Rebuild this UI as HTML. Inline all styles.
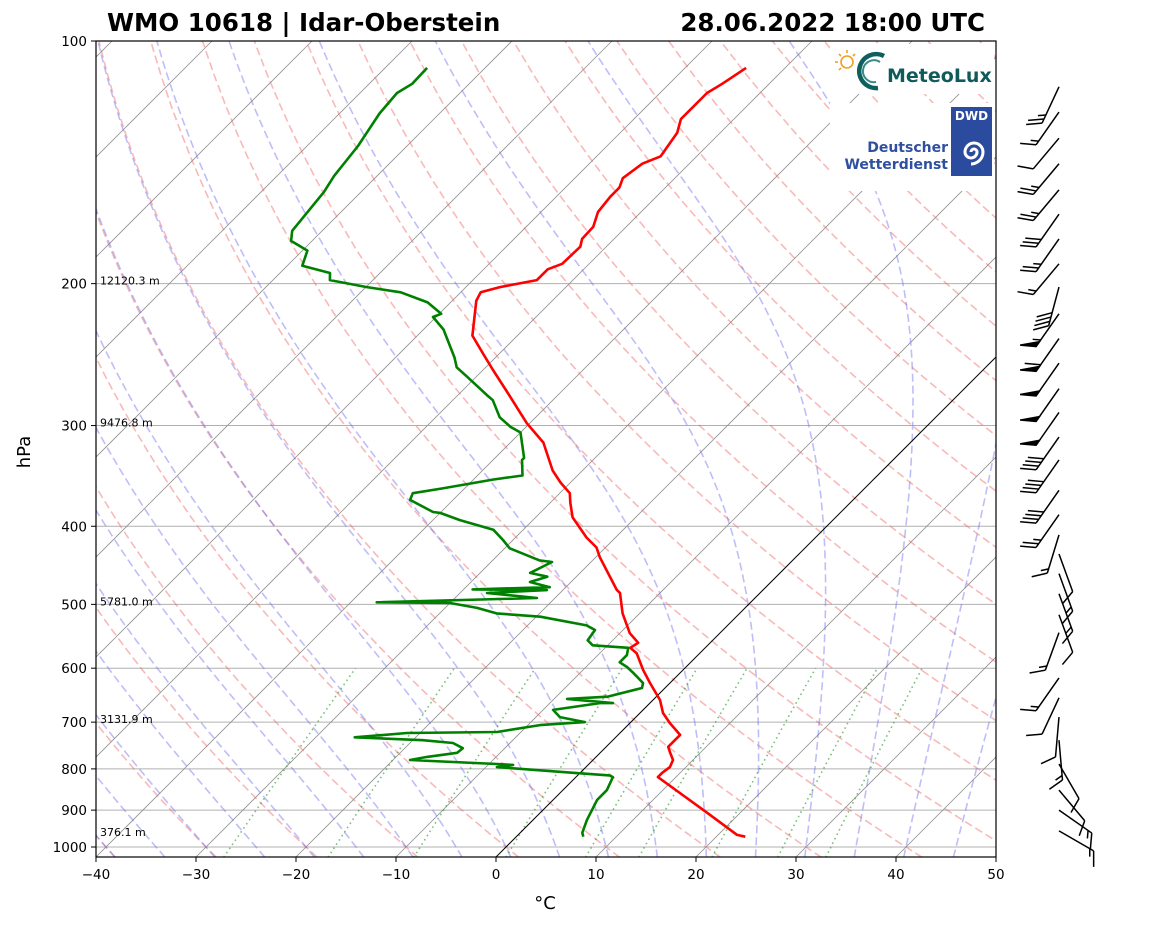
<!DOCTYPE html>
<html><head><meta charset="utf-8"><style>
body{margin:0;background:#fff;}
svg text{font-family:"DejaVu Sans","Liberation Sans",sans-serif;}
</style></head><body>
<svg id="chart" xmlns="http://www.w3.org/2000/svg" width="1160" height="925" viewBox="0 0 1160 925">
<defs><clipPath id="plotclip"><rect x="96" y="41" width="900" height="816"/></clipPath></defs>
<rect x="0" y="0" width="1160" height="925" fill="#fff"/>
<g id="grid" clip-path="url(#plotclip)"></g>
<g id="logos">
  <rect x="830" y="44" width="164" height="50" fill="#fff"/>
  <rect x="830" y="103" width="164" height="88" fill="#fff"/>
  <g stroke="#f0a020" stroke-width="1.6" fill="none">
    <circle cx="847" cy="62" r="6"/>
    <line x1="847" y1="50" x2="847" y2="53"/><line x1="835" y1="62" x2="838" y2="62"/>
    <line x1="839" y1="54" x2="841" y2="56"/><line x1="855" y1="54" x2="853" y2="56"/>
    <line x1="839" y1="70" x2="841" y2="68"/>
  </g>
  <path d="M884 56 A17 17 0 1 0 878 88" fill="none" stroke="#0f5f5f" stroke-width="4.5"/>
  <path d="M880 62 A11 11 0 1 0 876 82" fill="none" stroke="#3a8a8a" stroke-width="2"/>
  <text x="887" y="82" font-size="19" font-weight="bold" fill="#0f5b5b">MeteoLux</text>
  <rect x="951" y="107" width="41" height="69" fill="#2b4c9e"/>
  <text x="971.5" y="120" font-size="12" font-weight="bold" fill="#fff" text-anchor="middle">DWD</text>
  <path d="M971 152 a3 3 0 0 1 6 0 a6 6 0 0 1 -12 0 a9 9 0 0 1 18 0 a12 12 0 0 1 -12 12" fill="none" stroke="#fff" stroke-width="3"/>
  <text x="948" y="152" font-size="14" font-weight="bold" fill="#2f4f9f" text-anchor="end">Deutscher</text>
  <text x="948" y="169" font-size="14" font-weight="bold" fill="#2f4f9f" text-anchor="end">Wetterdienst</text>
</g>
<g id="axes"></g>
<g id="barbs"></g>
<text x="107" y="31" font-size="24.5" font-weight="bold">WMO 10618 | Idar-Oberstein</text>
<text x="985" y="31" font-size="24.5" font-weight="bold" text-anchor="end">28.06.2022 18:00 UTC</text>
<text x="545" y="909" font-size="18" text-anchor="middle">°C</text>
<text x="30" y="452" font-size="18" text-anchor="middle" transform="rotate(-90 30 452)">hPa</text>
</svg>
<script>
// ---------- data ----------
const tempP = [971,966,907,845,819,809,796,780,764,751,726,702,682,657,626,603,575,566,558,543,513,484,480,437,425,413,390,374,364,353,341,315,298,273,256,244,232,210,205,202,198,192,189,180,176,170,163,156,152,148,142,139,130,125,121,116,113,108];
const tempT = [22.9,21.9,16.7,10.8,8.2,8.2,8.4,8.0,7.0,6.2,6.2,4.0,2.3,0.7,-2.0,-4.0,-6.3,-7.5,-7.2,-9.0,-11.7,-14.0,-14.6,-19.6,-20.9,-22.9,-26.3,-28.0,-29.0,-31.0,-33.0,-36.7,-40.3,-45.3,-49.0,-51.7,-54.5,-57.6,-58.0,-56.6,-53.6,-53.6,-52.7,-52.6,-53.2,-53.3,-54.3,-54.6,-54.6,-55.2,-54.7,-53.6,-54.3,-55.3,-55.3,-55.3,-54.7,-53.9];
const dewP = [971,960,926,874,850,819,815,809,796,791,789,780,773,764,754,743,737,731,722,720,706,700,690,676,663,663,655,651,635,626,608,598,590,578,566,562,554,538,531,518,513,505,498,497,491,484,480,479,476,469,462,457,443,441,426,416,404,393,385,384,371,364,359,350,346,331,329,306,301,293,279,275,261,254,247,228,220,218,211,205,202,198,194,190,182,177,172,154,147,135,123,116,113,108];
const dewTd = [6.7,6.2,5.4,4.4,4.4,3.7,3.2,-0.7,-8.9,-7.5,-9.2,-18.3,-16.9,-14.3,-14.2,-15.7,-19.0,-26.1,-21.3,-12.4,-8.8,-4.6,-7.6,-9.0,-5.0,-3.7,-8.7,-4.9,-2.3,-2.7,-4.7,-5.9,-7.1,-7.1,-7.7,-11.5,-12.5,-12.8,-14.1,-19.6,-24.3,-26.8,-30.0,-37.4,-21.8,-27.3,-21.6,-29.1,-21.6,-24.1,-22.9,-25.0,-23.9,-25.3,-29.5,-31.0,-33.0,-37.3,-40.0,-40.8,-44.3,-44.7,-42.2,-38.0,-35.5,-37.1,-37.1,-40.0,-41.6,-43.6,-46.0,-47.1,-50.9,-52.9,-54.1,-58.0,-60.3,-59.8,-62.3,-66.0,-69.9,-74.3,-75.0,-78.5,-79.5,-82.1,-83.0,-83.7,-84.3,-84.9,-86.0,-86.3,-85.7,-85.8];
const windP = [114,122.5,132,142,153,164,176,189,202,218,234,251,270,289,310,331,361,387,410,433,458,485,515,542,617,653,690,737,789,850,900,955];
const windSpd = [25,15,10,25,25,30,25,15,40,55,60,50,50,50,40,40,40,25,15,10,15,15,10,15,15,10,10,15,10,10,15,15];
const windDir = [205,215,220,220,220,215,215,220,195,215,215,215,215,215,215,215,215,215,197,160,160,160,160,200,215,205,185,175,150,140,125,120];
const xTicks = [-40,-30,-20,-10,0,10,20,30,40,50];
const yTicks = [100,200,300,400,500,600,700,800,900,1000];
const heightP = [200,300,500,700,966];
const heightLabels = ["12120.3 m","9476.8 m","5781.0 m","3131.9 m","376.1 m"];
const isoTemps = [-150,-140,-130,-120,-110,-100,-90,-80,-70,-60,-50,-40,-30,-20,-10,10,20,30,40,50];
const dryT0 = [-40,-30,-20,-10,0,10,20,30,40,50,60,70,80,90,100,110,120,130,140,150,160,170,180,190,200];
const moistT0 = [-40,-35,-30,-25,-20,-15,-10,-5,0,5,10,15,20,25,30,35,40,45];
const mixW = [0.0004,0.001,0.002,0.004,0.007,0.01,0.016,0.024,0.032];

// ---------- axes functions ----------
const X0=96, X1=996, Y0=41, Y1=857, PBOT=1030, PTOP=100;
function yP(p){return Y0+806*Math.log10(p/100);}
function xT(T,p){return X0+(T+40)*10+(Y1-yP(p));}
const NS="http://www.w3.org/2000/svg";
function mk(tag,attrs,parent){const e=document.createElementNS(NS,tag);for(const k in attrs)e.setAttribute(k,attrs[k]);parent.appendChild(e);return e;}
function pathFrom(pts){return pts.map((q,i)=>(i?'L':'M')+q[0].toFixed(1)+' '+q[1].toFixed(1)).join(' ');}
const grid=document.getElementById('grid'), axes=document.getElementById('axes'), barbs=document.getElementById('barbs');

yTicks.forEach(p=>{
  const l=mk('line',{x1:X0,x2:X1,y1:yP(p),y2:yP(p),stroke:'#b0b0b0','stroke-width':1},grid);
  
  
});
isoTemps.forEach(T=>{
  const l=mk('line',{x1:xT(T,PBOT),y1:yP(PBOT),x2:xT(T,PTOP),y2:yP(PTOP),stroke:'#909090','stroke-width':0.8},grid);
  
  
});
dryT0.forEach(t0=>{
  const th=t0+273.15, pts=[];
  for(let p=PBOT;p>=PTOP;p-=10){pts.push([xT(th*Math.pow(p/1000,0.2857)-273.15,p),yP(p)]);}
  const e=mk('path',{d:pathFrom(pts),fill:'none',stroke:'rgba(240,100,100,0.45)','stroke-width':1.6,'stroke-dasharray':'8,4'},grid);
  
  
});
function es(T){return 611.2*Math.exp(17.67*(T-273.15)/(T-29.65));}
function dTdp(T,p){const Rd=287.04749,Cp=1005.7,Lv=2.501e6,eps=0.622;const e=es(T);const rs=eps*e/(p-e);
  return (1/p)*(Rd*T+Lv*rs)/(Cp+Lv*Lv*rs*eps/(Rd*T*T));}
function moist(t0){
  const up=[],down=[];let T=t0+273.15,p=100000,h=-500;
  up.push([p,T]);
  while(p>PTOP*100){const k1=dTdp(T,p),k2=dTdp(T+h/2*k1,p+h/2),k3=dTdp(T+h/2*k2,p+h/2),k4=dTdp(T+h*k3,p+h);T+=h/6*(k1+2*k2+2*k3+k4);p+=h;up.push([p,T]);}
  T=t0+273.15;p=100000;h=500;
  while(p<PBOT*100){const k1=dTdp(T,p);T+=h*k1;p+=h;down.unshift([p,T]);}
  return down.concat(up).map(q=>[xT(q[1]-273.15,q[0]/100),yP(q[0]/100)]);
}
moistT0.forEach(t0=>{
  const e=mk('path',{d:pathFrom(moist(t0)),fill:'none',stroke:'rgba(110,110,240,0.45)','stroke-width':1.6,'stroke-dasharray':'8,4'},grid);
  
  
});
mixW.forEach(w=>{
  const pts=[];
  for(let p=PBOT;p>=600;p-=10){const e=w*p/(0.622+w);const l=Math.log(e/6.112);pts.push([xT(243.5*l/(17.67-l),p),yP(p)]);}
  const el=mk('path',{d:pathFrom(pts),fill:'none',stroke:'rgba(40,150,40,0.6)','stroke-width':1.6,'stroke-dasharray':'1.6,3.4'},grid);
  
  
});
const zl=mk('line',{x1:xT(0,PBOT),y1:yP(PBOT),x2:xT(0,PTOP),y2:yP(PTOP),stroke:'#000','stroke-width':1},grid);


heightP.forEach((p,i)=>{
  const t=mk('text',{x:100,y:yP(p)+1,'font-size':11,fill:'#000'},grid);
  t.textContent=heightLabels[i];
  
  
});
const dl=mk('path',{d:pathFrom(dewP.map((p,i)=>[xT(dewTd[i],p),yP(p)])),fill:'none',stroke:'#008000','stroke-width':2.6,'stroke-linejoin':'round'},grid);


const tl=mk('path',{d:pathFrom(tempP.map((p,i)=>[xT(tempT[i],p),yP(p)])),fill:'none',stroke:'#ff0000','stroke-width':2.6,'stroke-linejoin':'round'},grid);



const fr=mk('rect',{x:X0,y:Y0,width:X1-X0,height:Y1-Y0,fill:'none',stroke:'#000','stroke-width':1.2},axes);


yTicks.forEach(p=>{
  const y=yP(p);
  const tk=mk('line',{x1:X0-5,x2:X0,y1:y,y2:y,stroke:'#000','stroke-width':1},axes);
  
  
  const t=mk('text',{x:X0-9,y:y+5,'font-size':13.5,'text-anchor':'end'},axes);
  t.textContent=p;
  
  
});
xTicks.forEach(T=>{
  const x=X0+(T+40)*10;
  const tk=mk('line',{x1:x,x2:x,y1:Y1,y2:Y1+5,stroke:'#000','stroke-width':1},axes);
  
  
  const t=mk('text',{x:x,y:Y1+22,'font-size':13.5,'text-anchor':'middle'},axes);
  t.textContent=(T<0?'\u2212'+(-T):T);
  
  
});

const BX=1059, L=40;
windP.forEach((p,i)=>{
  const g=mk('g',{stroke:'#000','stroke-width':1.5,fill:'#000'},barbs);
  
  
  const y=yP(p), d=windDir[i]*Math.PI/180;
  const sx=Math.sin(d), sy=-Math.cos(d);
  const ex=BX+sx*L, ey=y+sy*L;
  mk('line',{x1:BX,y1:y,x2:ex,y2:ey},g);
  const c=Math.cos(Math.PI/3), s=Math.sin(Math.PI/3);
  const fx=sx*c-sy*s, fy=sx*s+sy*c;
  let spd=windSpd[i], pos=0;
  const at=k=>[ex-sx*k, ey-sy*k];
  while(spd>=50){const a=at(pos),b=at(pos+6);
    mk('polygon',{points:`${a[0]},${a[1]} ${b[0]},${b[1]} ${a[0]+fx*16},${a[1]+fy*16}`},g);pos+=8;spd-=50;}
  while(spd>=10){const a=at(pos);mk('line',{x1:a[0],y1:a[1],x2:a[0]+fx*16,y2:a[1]+fy*16},g);pos+=4.5;spd-=10;}
  if(spd>=5){if(pos===0)pos=4.5;const a=at(pos);mk('line',{x1:a[0],y1:a[1],x2:a[0]+fx*8,y2:a[1]+fy*8},g);}
});
</script>
</body></html>
